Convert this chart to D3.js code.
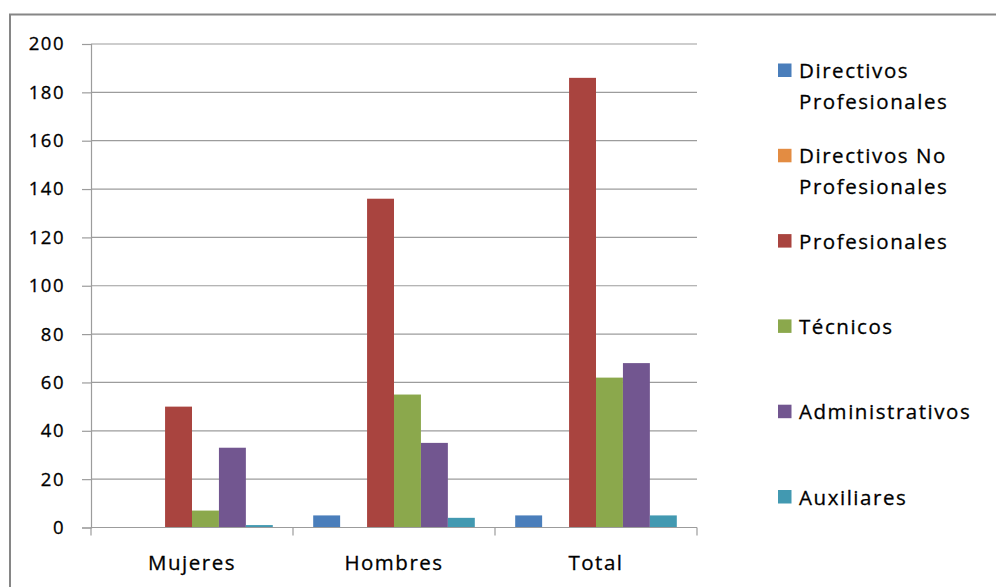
<!DOCTYPE html>
<html>
<head>
<meta charset="utf-8">
<script src="https://cdn.jsdelivr.net/npm/d3@7/dist/d3.min.js"></script>
<style>
  html, body { margin: 0; padding: 0; background: #fff; }
  svg { display: block; }
  text { font-family: "Open Sans", "DejaVu Sans", sans-serif; fill: #000; stroke: #000; stroke-width: 0.3px; }
</style>
</head>
<body>
<svg id="chart" width="996" height="587"></svg>
<script>
// Personal por categoría y sexo
const categories = ["Mujeres", "Hombres", "Total"];
const seriesNames = [
  "Directivos Profesionales",
  "Directivos No Profesionales",
  "Profesionales",
  "Técnicos",
  "Administrativos",
  "Auxiliares"
];
const directivosProfesionales   = [0, 5, 5];
const directivosNoProfesionales = [0, 0, 0];
const profesionales             = [50, 136, 186];
const tecnicos                  = [7, 55, 62];
const administrativos           = [33, 35, 68];
const auxiliares                = [1, 4, 5];
const yTicks = [0, 20, 40, 60, 80, 100, 120, 140, 160, 180, 200];
// Legend labels split over lines as shown in the key
const legendLines = [
  ["Directivos", "Profesionales"],
  ["Directivos No", "Profesionales"],
  ["Profesionales"],
  ["Técnicos"],
  ["Administrativos"],
  ["Auxiliares"]
];
const colors = ["#4A7EBB", "#E38C42", "#A9443F", "#8BA84C", "#725690", "#4299B1"];

const seriesValues = [
  directivosProfesionales, directivosNoProfesionales, profesionales,
  tecnicos, administrativos, auxiliares
];

const svg = d3.select("#chart");

// Chart frame
svg.append("rect")
  .attr("x", 10).attr("y", 14.5)
  .attr("width", 1100).attr("height", 700)
  .attr("fill", "#fff")
  .attr("stroke", "#868686").attr("stroke-width", 2);

const plot = { left: 91, right: 697, top: 44, bottom: 527.5 };

const x0 = d3.scaleBand()
  .domain(categories)
  .range([plot.left, plot.right])
  .paddingInner(0).paddingOuter(0);

// Excel-style gap width of 150% between groups
const groupGap = x0.bandwidth() * 1.5 / (seriesNames.length + 1.5);
const x1 = d3.scaleBand()
  .domain(seriesNames)
  .range([groupGap / 2, x0.bandwidth() - groupGap / 2])
  .padding(0);

const y = d3.scaleLinear().domain([0, 200]).range([plot.bottom, plot.top]);

const gridColor = "#9c9c9c";

// Horizontal gridlines
svg.append("g")
  .selectAll("line")
  .data(yTicks.filter(d => d > 0))
  .join("line")
  .attr("x1", plot.left).attr("x2", plot.right)
  .attr("y1", d => y(d)).attr("y2", d => y(d))
  .attr("stroke", gridColor).attr("stroke-width", 1.2);

// Bars
const groups = svg.append("g")
  .selectAll("g")
  .data(categories)
  .join("g")
  .attr("transform", d => `translate(${x0(d)},0)`);

groups.selectAll("rect")
  .data((c, ci) => seriesNames.map((s, si) => ({ s, si, v: seriesValues[si][ci] })))
  .join("rect")
  .attr("x", d => x1(d.s))
  .attr("width", x1.bandwidth())
  .attr("y", d => y(d.v))
  .attr("height", d => y(0) - y(d.v))
  .attr("fill", d => colors[d.si]);

// Y axis
const yAxis = d3.axisLeft(y).tickValues(yTicks).tickSize(9).tickPadding(17);
const gy = svg.append("g").attr("transform", `translate(${plot.left},0)`).call(yAxis);
gy.select(".domain").attr("stroke", gridColor).attr("stroke-width", 1.2);
gy.selectAll(".tick line").attr("stroke", gridColor).attr("stroke-width", 1.2);
gy.selectAll(".tick text")
  .style("font-family", "'Open Sans', sans-serif")
  .style("font-size", "18.5px")
  .style("letter-spacing", "1.5px")
  .attr("fill", "#000");

// X axis with ticks at category boundaries
const gx = svg.append("g").attr("transform", `translate(0,${plot.bottom})`);
gx.append("line")
  .attr("x1", plot.left).attr("x2", plot.right)
  .attr("stroke", gridColor).attr("stroke-width", 1.2);
gx.selectAll("line.sep")
  .data(d3.range(categories.length + 1))
  .join("line")
  .attr("class", "sep")
  .attr("x1", i => plot.left + i * x0.bandwidth())
  .attr("x2", i => plot.left + i * x0.bandwidth())
  .attr("y1", 0).attr("y2", 8)
  .attr("stroke", gridColor).attr("stroke-width", 1.2);
gx.selectAll("text")
  .data(categories)
  .join("text")
  .attr("x", d => x0(d) + x0.bandwidth() / 2)
  .attr("y", 42)
  .attr("text-anchor", "middle")
  .style("font-size", "20.5px")
  .style("letter-spacing", "1.5px")
  .text(d => d);

// Legend
const legend = svg.append("g").attr("transform", "translate(778,0)");
const legendY = d3.scaleLinear().domain([0, seriesNames.length - 1]).range([70.5, 497]);
const items = legend.selectAll("g")
  .data(seriesNames)
  .join("g")
  .attr("transform", (d, i) => `translate(0,${legendY(i)})`);
items.append("rect")
  .attr("x", 0).attr("y", -7)
  .attr("width", 13.5).attr("height", 13.5)
  .attr("fill", (d, i) => colors[i]);
items.append("text")
  .attr("x", 21)
  .attr("y", 7.5)
  .style("font-size", "20.5px")
  .style("letter-spacing", "1.55px")
  .selectAll("tspan")
  .data((d, i) => legendLines[i])
  .join("tspan")
  .attr("x", 21)
  .attr("dy", (d, j) => j === 0 ? 0 : 31)
  .text(d => d);
</script>
</body>
</html>
